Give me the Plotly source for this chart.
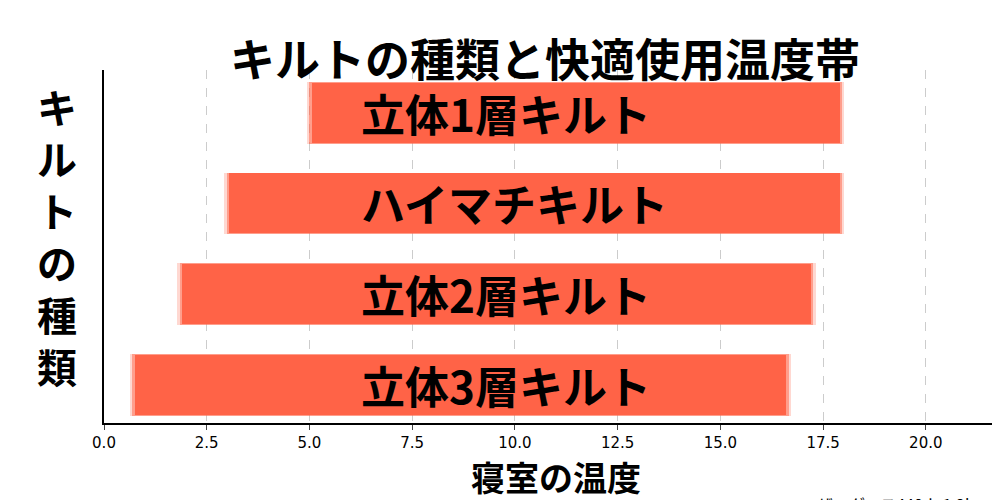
import plotly.graph_objects as go

quilts = ["立体3層キルト", "立体2層キルト", "ハイマチキルト", "立体1層キルト"]
temp_low = [0.75, 1.9, 3.05, 5.05]
temp_high = [16.6, 17.2, 17.9, 17.9]

FONT = "Noto Sans CJK JP"
fig = go.Figure()

# soft edge: a few wider translucent bars under the solid one
for pad, op in [(0.12, 0.25), (0.06, 0.5)]:
    fig.add_trace(go.Bar(
        y=list(range(len(quilts))),
        x=[h - l + 2 * pad for l, h in zip(temp_low, temp_high)],
        base=[l - pad for l in temp_low],
        orientation="h", width=0.68,
        marker=dict(color="#ff6347", opacity=op, line_width=0),
        hoverinfo="skip", showlegend=False,
    ))
fig.add_trace(go.Bar(
    y=list(range(len(quilts))),
    x=[h - l for l, h in zip(temp_low, temp_high)],
    base=temp_low,
    orientation="h", width=0.66,
    marker=dict(color="#ff6347", line_width=0),
    showlegend=False,
))

for i, name in enumerate(quilts):
    fig.add_annotation(x=6.2, y=i, text=f"<b>{name}</b>", xanchor="left",
                       showarrow=False, font=dict(family=FONT, size=44, color="black"))

fig.add_annotation(x=-0.052, y=0.53, xref="paper", yref="paper", xanchor="center",
                   text="<b>" + "<br>".join("キルトの種類") + "</b>", showarrow=False,
                   font=dict(family=FONT, size=40, color="black"))
fig.add_annotation(x=0.975, y=-0.23, xref="paper", yref="paper", xanchor="right", yanchor="middle",
                   text="マザーグース440dp1.2kg", showarrow=False,
                   font=dict(family=FONT, size=16, color="black"))

fig.update_layout(
    width=1000, height=500,
    margin=dict(l=96, r=0, t=62, b=85),
    plot_bgcolor="white", paper_bgcolor="white",
    barmode="overlay", bargap=0,
    title=dict(text="<b>キルトの種類と快適使用温度帯</b>", x=0.537, y=0.925, xanchor="center",
               font=dict(family=FONT, size=45, color="black")),
    xaxis=dict(range=[0, 22], tickvals=[0, 2.5, 5, 7.5, 10, 12.5, 15, 17.5, 20],
               ticktext=["0.0", "2.5", "5.0", "7.5", "10.0", "12.5", "15.0", "17.5", "20.0"],
               showgrid=True, gridcolor="#cccccc", griddash="dash", gridwidth=1,
               showline=True, linecolor="black", linewidth=1.5, ticks="outside",
               tickfont=dict(family="DejaVu Sans", size=15, color="black"),
               title=dict(text="<b>寝室の温度</b>", font=dict(family=FONT, size=34, color="black"),
                          standoff=6)),
    yaxis=dict(range=[-0.42, 3.47], showticklabels=False, showgrid=False, zeroline=False,
               showline=True, linecolor="black", linewidth=1.5),
)

fig.write_html("out.html")
